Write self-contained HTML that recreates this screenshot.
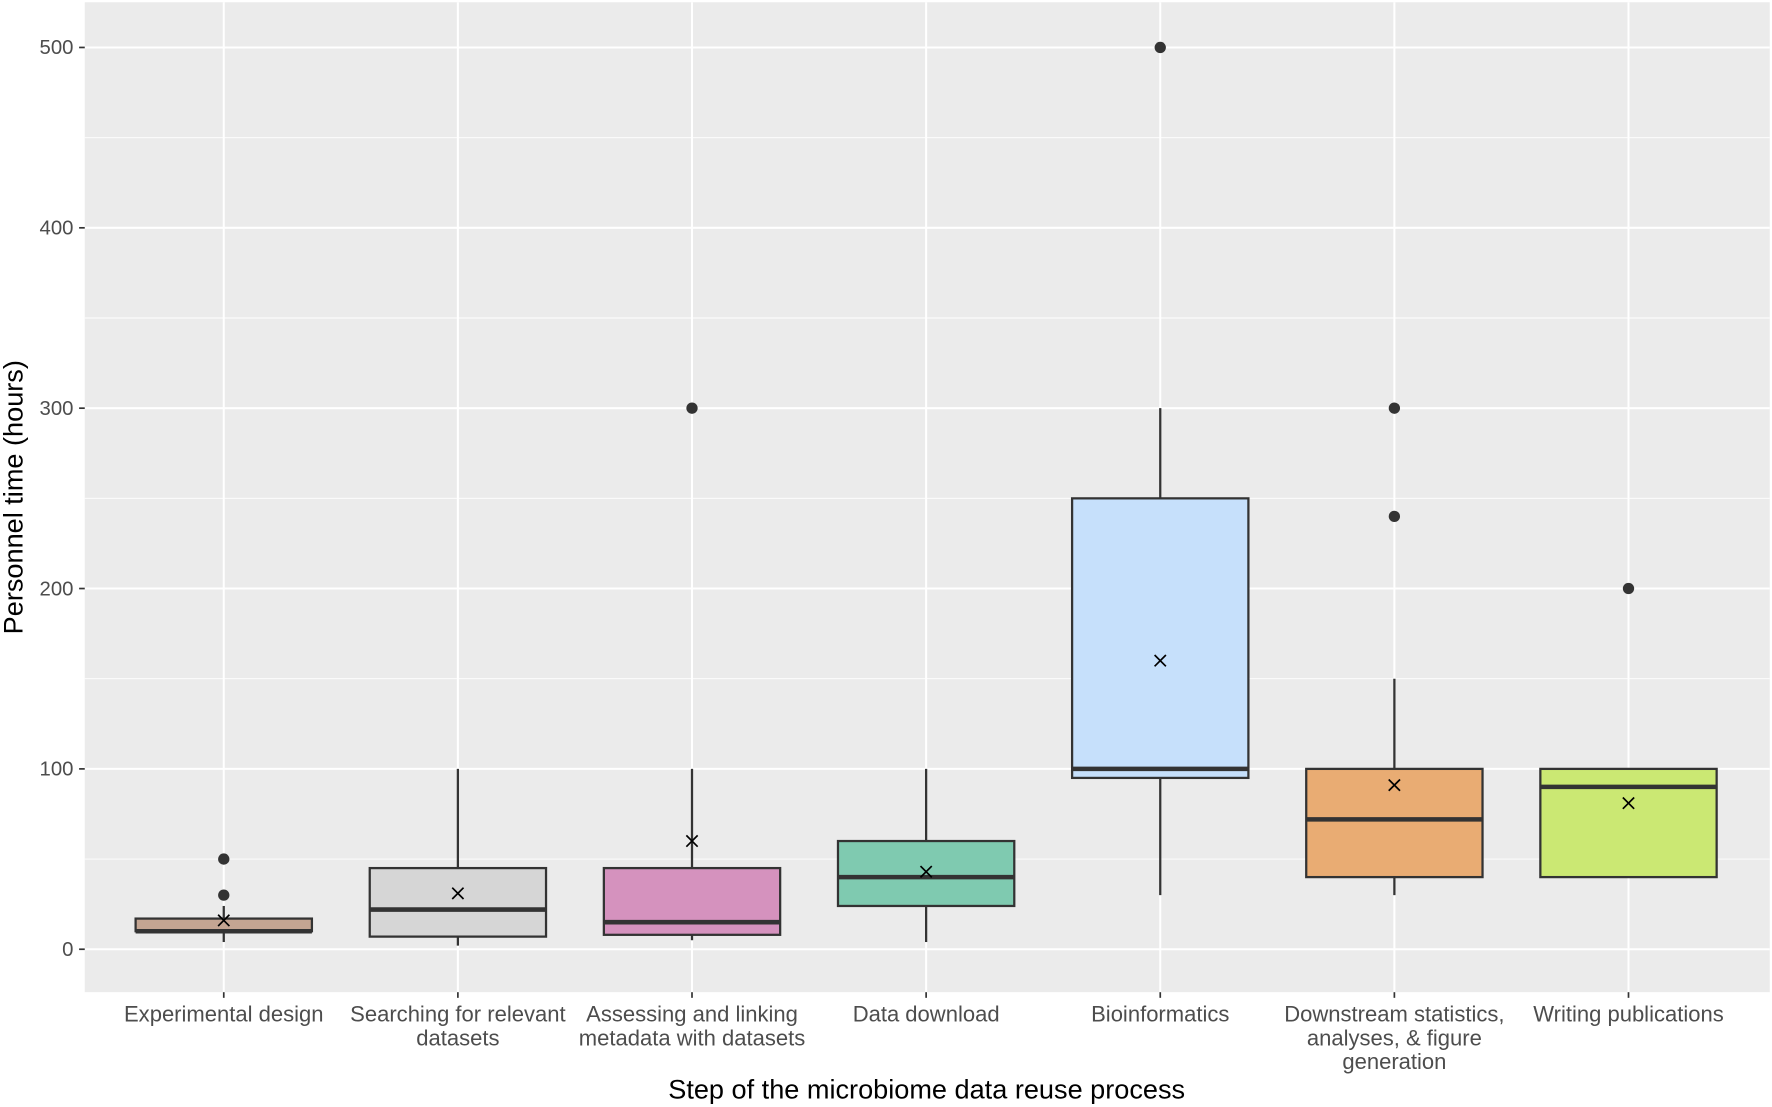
<!DOCTYPE html>
<html><head><meta charset="utf-8">
<style>
html,body{margin:0;padding:0;background:#fff;}
svg{display:block;}
text{font-family:"Liberation Sans",Arial,sans-serif;}
</style></head>
<body>
<svg id="chart" width="1772" height="1107" viewBox="0 0 1568 979.6" preserveAspectRatio="none" xmlns="http://www.w3.org/2000/svg">
<rect x="75" y="2" width="1491" height="876" fill="#ebebeb"/>
<g id="grid"></g>
<g id="boxes"></g>
<g id="axes"></g>
<text x="820" y="972" text-anchor="middle" font-size="24" fill="#000">Step of the microbiome data reuse process</text>
<text transform="translate(20,440) rotate(-90)" text-anchor="middle" font-size="24" fill="#000">Personnel time (hours)</text>
</svg>
<script>
const categories = [["Experimental design"],["Searching for relevant","datasets"],["Assessing and linking","metadata with datasets"],["Data download"],["Bioinformatics"],["Downstream statistics,","analyses, & figure","generation"],["Writing publications"]];
const lowerWhisker = [4, 2, 5, 4, 30, 30, 40];
const q1 = [10, 7, 8, 24, 95, 40, 40];
const median = [10, 22, 15, 40, 100, 72, 90];
const q3 = [17, 45, 45, 60, 250, 100, 100];
const upperWhisker = [24, 100, 100, 100, 300, 150, 100];
const means = [16, 31, 60, 43, 160, 91, 81];
const outliers = [[30, 50], [], [300], [], [500], [240, 300], [200]];
const colors = ["#c4a592", "#d6d6d6", "#d592be", "#7fcab0", "#c6e0fb", "#e9ac73", "#cbe873"];
const yTicks = [0, 100, 200, 300, 400, 500];

const NS = "http://www.w3.org/2000/svg";
const y = v => 840 - v * (840 - 42) / 500;
const x = i => 198 + i * 207.17;
const bw = 156;
function mk(tag, attrs, parent) {
  const e = document.createElementNS(NS, tag);
  for (const k in attrs) e.setAttribute(k, attrs[k]);
  parent.appendChild(e);
  return e;
}
const grid = document.getElementById('grid');
const boxes = document.getElementById('boxes');
const axes = document.getElementById('axes');
for (let t = 50; t <= 550; t += 100) {
  if (y(t) < 2) continue;
  const l = mk('line', {x1: 75, x2: 1566, y1: y(t), y2: y(t), stroke: '#fff', 'stroke-width': 0.8}, grid);
  
  
}
yTicks.forEach(t => {
  const l = mk('line', {x1: 75, x2: 1566, y1: y(t), y2: y(t), stroke: '#fff', 'stroke-width': 1.8}, grid);
  
  
  const tk = mk('line', {x1: 70, x2: 75, y1: y(t), y2: y(t), stroke: '#333', 'stroke-width': 1.5}, axes);
  
  
  const tx = mk('text', {x: 65, y: y(t) + 6, 'text-anchor': 'end', 'font-size': 18, fill: '#4d4d4d'}, axes);
  tx.textContent = t;
  
  
});
categories.forEach((c, i) => {
  const cx = x(i);
  const vl = mk('line', {x1: cx, x2: cx, y1: 2, y2: 878, stroke: '#fff', 'stroke-width': 1.8}, grid);
  
  
  const tk = mk('line', {x1: cx, x2: cx, y1: 878, y2: 883, stroke: '#333', 'stroke-width': 1.5}, axes);
  
  
  const tx = mk('text', {x: cx, y: 904, 'text-anchor': 'middle', 'font-size': 19.5, fill: '#4d4d4d'}, axes);
  
  
  c.forEach((line, k) => {
    const ts = mk('tspan', {x: cx, dy: k ? 21 : 0}, tx);
    ts.textContent = line;
  });
  const g = mk('g', {}, boxes);
  
  
  const w1 = mk('line', {x1: cx, x2: cx, y1: y(upperWhisker[i]), y2: y(q3[i]), stroke: '#333', 'stroke-width': 2}, g);
  
  
  const w2 = mk('line', {x1: cx, x2: cx, y1: y(q1[i]), y2: y(lowerWhisker[i]), stroke: '#333', 'stroke-width': 2}, g);
  
  
  const r = mk('rect', {x: cx - bw / 2, y: y(q3[i]), width: bw, height: y(q1[i]) - y(q3[i]), fill: colors[i], stroke: '#333', 'stroke-width': 2}, g);
  
  
  const m = mk('line', {x1: cx - bw / 2, x2: cx + bw / 2, y1: y(median[i]), y2: y(median[i]), stroke: '#333', 'stroke-width': 4}, g);
  
  
  outliers[i].forEach(v => {
    const o = mk('circle', {cx: cx, cy: y(v), r: 5, fill: '#333'}, g);
    
    
  });
  const my = y(means[i]), s = 5;
  const mp = mk('path', {d: `M${cx - s},${my - s}L${cx + s},${my + s}M${cx - s},${my + s}L${cx + s},${my - s}`, stroke: '#000', 'stroke-width': 1.5, fill: 'none'}, g);
  
  
});
</script>
</body></html>
